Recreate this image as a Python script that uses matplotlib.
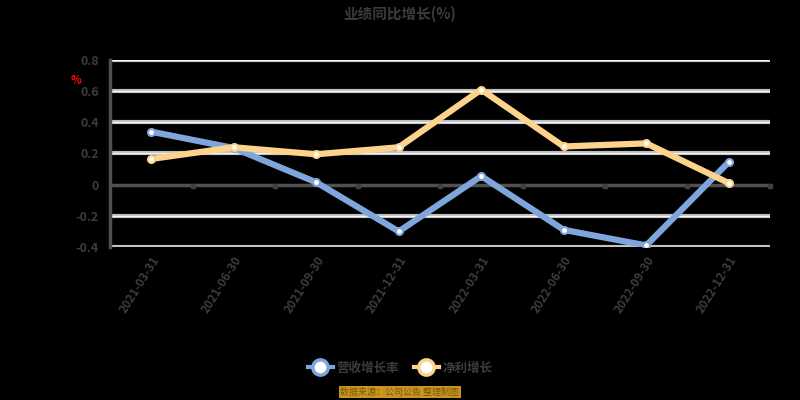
import matplotlib
matplotlib.use("Agg")
import matplotlib.pyplot as plt
from matplotlib.lines import Line2D

plt.rcParams['font.family'] = ['Noto Sans CJK SC', 'DejaVu Sans']

title = "业绩同比增长(%)"
categories = ["2021-03-31", "2021-06-30", "2021-09-30", "2021-12-31",
              "2022-03-31", "2022-06-30", "2022-09-30", "2022-12-31"]
series_names = ["营收增长率", "净利增长"]
blue_vals = [0.34, 0.235, 0.015, -0.30, 0.055, -0.29, -0.39, 0.145]
orange_vals = [0.165, 0.24, 0.195, 0.24, 0.61, 0.245, 0.265, 0.01]
yticks = [-0.4, -0.2, 0, 0.2, 0.4, 0.6, 0.8]
ytick_labels = ["-0.4", "-0.2", "0", "0.2", "0.4", "0.6", "0.8"]
footer = "数据来源：公司公告 整理制图"

BLUE = "#7fa6dc"
ORANGE = "#fdd28a"
TXT = "#3c3c3c"

fig = plt.figure(figsize=(8, 4), dpi=100, facecolor="black")
ax = fig.add_axes([0.1375, 0.3825, 0.825, 0.4675], facecolor="black")

x = list(range(len(categories)))
ax.set_xlim(-0.5, len(categories) - 0.5)
ax.set_ylim(-0.4, 0.8)

for t in yticks:
    if t == 0:
        continue
    ax.axhline(t, color="#bdbdbd", lw=3, zorder=1)
    ax.axhline(t, color="#f4f4f4", lw=1, zorder=1)
ax.axhline(0, color="#505050", lw=2.5, zorder=1)

ax.plot(x, blue_vals, color=BLUE, lw=4.5, zorder=3, solid_capstyle="round",
        marker="o", markersize=5, markerfacecolor="white", markeredgecolor=BLUE, markeredgewidth=1.5)
ax.plot(x, orange_vals, color=ORANGE, lw=4.5, zorder=3, solid_capstyle="round",
        marker="o", markersize=5, markerfacecolor="white", markeredgecolor=ORANGE, markeredgewidth=1.5)

for s in ["top", "right", "bottom"]:
    ax.spines[s].set_visible(False)
ax.spines["left"].set_color("#505050")
ax.spines["left"].set_linewidth(2.5)

ax.set_yticks(yticks)
ax.set_yticklabels(ytick_labels, color=TXT, fontsize=9, fontweight="bold")
ax.tick_params(axis="y", length=0, pad=8)

ax.set_xticks(x)
ax.set_xticklabels([])
ax.tick_params(axis="x", length=0)
for i, c in enumerate(categories):
    ax.annotate(c, xy=(i, -0.4), xycoords="data", xytext=(0, -5), textcoords="offset points",
                rotation=58, ha="right", va="top", rotation_mode="anchor",
                color=TXT, fontsize=8.5, fontweight="bold")
# boundary tick marks just below the zero line
for b in range(1, len(categories) + 1):
    ax.plot([b - 0.5], [-0.008], marker="s", color="#404040", markersize=3.5, zorder=2, clip_on=False)

fig.text(0.5, 0.965, title, ha="center", va="center", color=TXT, fontsize=10.5, fontweight="bold")
fig.text(0.095, 0.8, "%", ha="center", va="center", color="red", fontsize=8, fontweight="bold")

handles = [Line2D([0], [0], color=BLUE, lw=3, marker="o", markersize=11,
                  markerfacecolor="white", markeredgecolor=BLUE, markeredgewidth=2.5),
           Line2D([0], [0], color=ORANGE, lw=3, marker="o", markersize=11,
                  markerfacecolor="white", markeredgecolor=ORANGE, markeredgewidth=2.5)]
leg = fig.legend(handles, series_names, loc="center", bbox_to_anchor=(0.5, 0.08),
                 ncol=2, frameon=False, handlelength=2.0, columnspacing=1.2, handletextpad=0.3,
                 fontsize=9)
for t in leg.get_texts():
    t.set_color(TXT)
    t.set_fontweight("bold")

fig.text(0.5, 0.02, footer, ha="center", va="center", color="#7a5a10", fontsize=6.5,
         bbox=dict(boxstyle="square,pad=0.15", facecolor="#c8951e", edgecolor="none"))

fig.savefig("out.png", dpi=100, facecolor="black")
